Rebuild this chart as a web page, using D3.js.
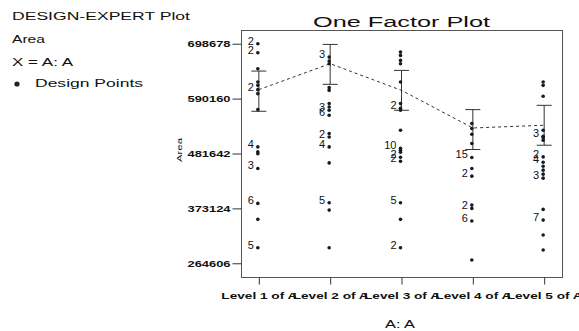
<!DOCTYPE html>
<html>
<head>
<meta charset="utf-8">
<script src="https://cdnjs.cloudflare.com/ajax/libs/d3/7.8.5/d3.min.js"></script>
<style>
  body { margin: 0; background: #fff; }
  text { font-family: Arial, "Liberation Sans", sans-serif; fill: #111; }
</style>
</head>
<body>
<div id="chart"></div>
<script>
// factor levels on the x axis
var levels = ['Level 1 of A', 'Level 2 of A', 'Level 3 of A', 'Level 4 of A', 'Level 5 of A'];
// y tick values (min .. max of the response, in quarters)
var yTicks = [264606, 373124, 481642, 590160, 698678];
// predicted means and LSD bars per level
var means = [607900, 659200, 606500, 532100, 537500];
var barLow = [565100, 618400, 567100, 489500, 498000];
var barHigh = [644600, 697300, 646000, 568400, 576900];

// design points: [value, count label (0 = none)]
var level1 = [[698678, 2], [680909, 2], [649341, 0], [622903, 0], [616392, 0], [607908, 2], [600016, 0],
  [568448, 0], [494658, 4], [484793, 0], [481000, 0], [452041, 3], [382986, 6], [351418, 0], [295385, 5]];
var level2 = [[672228, 3], [664336, 0], [659206, 0], [611854, 0], [606527, 0], [580286, 0], [573578, 0],
  [567067, 3], [557202, 6], [521096, 0], [514388, 2], [494658, 4], [463090, 0], [384170, 5], [369767, 0], [295385, 0]];
var level3 = [[682093, 0], [675582, 0], [665717, 0], [659206, 0], [622903, 0], [580286, 0], [571013, 2], [567067, 0],
  [527607, 0], [492093, 10], [488147, 0], [484201, 0], [474336, 2], [466444, 2], [384170, 5], [351418, 0], [295385, 2]];
var level4 = [[540826, 0], [530961, 0], [519715, 0], [501366, 0], [473744, 15], [452041, 0], [436849, 2],
  [379632, 0], [373121, 2], [348064, 6], [271117, 0]];
var level5 = [[622903, 0], [616392, 0], [594689, 0], [527607, 0], [515768, 3], [513204, 0], [507877, 0],
  [474928, 2], [464471, 4], [456579, 0], [448687, 0], [440795, 0], [432903, 3], [371148, 0], [350000, 7],
  [320442, 0], [290847, 0]];

var pointSets = [level1, level2, level3, level4, level5];

var width = 579, height = 331;
var plotLeft = 241, plotRight = 562, plotTop = 30, plotBottom = 277;

var svg = d3.select('#chart').append('svg')
  .attr('width', width)
  .attr('height', height);

// legend text, top left
var legendLines = [
  { t: 'DESIGN-EXPERT Plot', x: 12, y: 20, w: 178 },
  { t: 'Area', x: 12, y: 43, w: 33 },
  { t: 'X = A: A', x: 12, y: 66, w: 61 },
  { t: 'Design Points', x: 35, y: 87, w: 108 }
];
svg.selectAll('text.legend')
  .data(legendLines)
  .enter()
  .append('text')
  .attr('class', 'legend')
  .attr('x', function (d) { return d.x; })
  .attr('y', function (d) { return d.y; })
  .attr('font-size', 10)
  .attr('textLength', function (d) { return d.w; })
  .attr('lengthAdjust', 'spacingAndGlyphs')
  .text(function (d) { return d.t; });
svg.append('circle')
  .attr('cx', 17).attr('cy', 84).attr('r', 2.6)
  .attr('fill', '#222');

// scales
var yRange = yTicks[yTicks.length - 1] - yTicks[0];
var y = d3.scaleLinear()
  .domain([yTicks[0] - yRange / 16, yTicks[yTicks.length - 1] + yRange / 16])
  .range([plotBottom, plotTop]);
var x = d3.scalePoint()
  .domain(levels)
  .range([plotLeft, plotRight])
  .padding(0.25);

// title
svg.append('text')
  .attr('x', (plotLeft + plotRight) / 2)
  .attr('y', 26.5)
  .attr('text-anchor', 'middle')
  .attr('font-size', 14)
  .attr('textLength', 177)
  .attr('lengthAdjust', 'spacingAndGlyphs')
  .text('One Factor Plot');

// frame
svg.append('rect')
  .attr('x', plotLeft + 0.5).attr('y', plotTop + 0.5)
  .attr('width', plotRight - plotLeft).attr('height', plotBottom - plotTop)
  .attr('fill', 'none')
  .attr('stroke', '#555')
  .attr('stroke-width', 1);

// y axis
var yAxis = svg.append('g')
  .attr('transform', 'translate(' + (plotLeft + 0.5) + ',0)')
  .call(d3.axisLeft(y).tickValues(yTicks).tickFormat(d3.format('d'))
    .tickSize(9).tickSizeOuter(0).tickPadding(2));
yAxis.select('.domain').remove();
yAxis.selectAll('line').attr('stroke', '#333');
yAxis.selectAll('text')
  .attr('font-family', 'Arial, "Liberation Sans", sans-serif')
  .attr('font-size', 8.5)
  .attr('font-weight', 'bold')
  .attr('fill', '#111')
  .attr('textLength', 43)
  .attr('lengthAdjust', 'spacingAndGlyphs');

svg.append('text')
  .attr('transform', 'translate(182,150) rotate(-90)')
  .attr('text-anchor', 'middle')
  .attr('font-size', 7.5)
  .attr('textLength', 24)
  .attr('lengthAdjust', 'spacingAndGlyphs')
  .text('Area');

// x axis
var xAxis = svg.append('g')
  .attr('transform', 'translate(0,' + (plotBottom + 0.5) + ')')
  .call(d3.axisBottom(x).tickSize(7).tickSizeOuter(0).tickPadding(8));
xAxis.select('.domain').remove();
xAxis.selectAll('line').attr('stroke', '#333');
xAxis.selectAll('text')
  .attr('font-family', 'Arial, "Liberation Sans", sans-serif')
  .attr('font-size', 9.5)
  .attr('font-weight', 'bold')
  .attr('fill', '#111')
  .attr('textLength', 76)
  .attr('lengthAdjust', 'spacingAndGlyphs');

svg.append('text')
  .attr('x', 400)
  .attr('y', 328)
  .attr('text-anchor', 'middle')
  .attr('font-size', 10)
  .attr('textLength', 30)
  .attr('lengthAdjust', 'spacingAndGlyphs')
  .text('A: A');

// dashed line through the means
var meanLine = d3.line()
  .x(function (d, i) { return x(levels[i]); })
  .y(function (d) { return y(d); });
svg.append('path')
  .attr('d', meanLine(means))
  .attr('fill', 'none')
  .attr('stroke', '#333')
  .attr('stroke-width', 1)
  .attr('stroke-dasharray', '3,3');

// LSD bars
var bars = svg.selectAll('g.bar')
  .data(levels)
  .enter()
  .append('g')
  .attr('class', 'bar');
bars.append('line')
  .attr('x1', function (d) { return x(d); })
  .attr('x2', function (d) { return x(d); })
  .attr('y1', function (d, i) { return y(barHigh[i]); })
  .attr('y2', function (d, i) { return y(barLow[i]); })
  .attr('stroke', '#333');
bars.append('line')
  .attr('x1', function (d) { return x(d) - 7.5; })
  .attr('x2', function (d) { return x(d) + 7.5; })
  .attr('y1', function (d, i) { return y(barHigh[i]); })
  .attr('y2', function (d, i) { return y(barHigh[i]); })
  .attr('stroke', '#333');
bars.append('line')
  .attr('x1', function (d) { return x(d) - 7.5; })
  .attr('x2', function (d) { return x(d) + 7.5; })
  .attr('y1', function (d, i) { return y(barLow[i]); })
  .attr('y2', function (d, i) { return y(barLow[i]); })
  .attr('stroke', '#333');

// design points and their count labels
pointSets.forEach(function (pts, i) {
  var cx = x(levels[i]) - 1;
  var g = svg.append('g');
  g.selectAll('circle')
    .data(pts)
    .enter()
    .append('circle')
    .attr('cx', cx)
    .attr('cy', function (d) { return y(d[0]); })
    .attr('r', 1.8)
    .attr('fill', '#1a1a1a');
  g.selectAll('text')
    .data(pts.filter(function (d) { return d[1] > 0; }))
    .enter()
    .append('text')
    .attr('x', cx - 4)
    .attr('y', function (d) { return y(d[0]) + 1; })
    .attr('text-anchor', 'end')
    .attr('font-size', 11)
    .attr('fill', '#222')
    .text(function (d) { return d[1]; });
});
</script>
</body>
</html>
